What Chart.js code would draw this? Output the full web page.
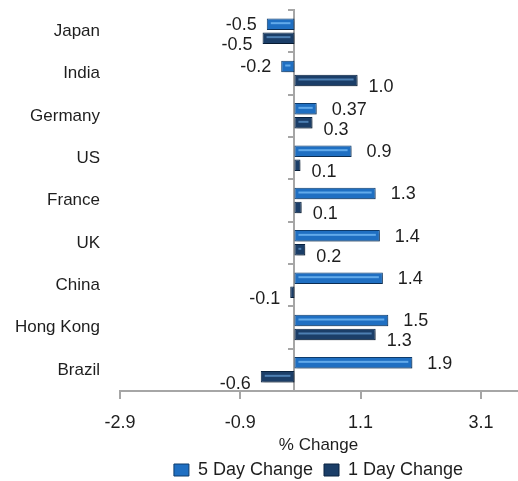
<!DOCTYPE html>
<html><head><meta charset="utf-8">
<script src="https://cdn.jsdelivr.net/npm/chart.js@4.4.1/dist/chart.umd.min.js"></script>
<style>html,body{margin:0;padding:0;background:#fff}#wrap{width:518px;height:481px}</style>
</head><body><div id="wrap"><canvas id="c" width="518" height="481"></canvas></div>
<script>
const categories = ['Japan','India','Germany','US','France','UK','China','Hong Kong','Brazil'];
const fiveDay = [-0.46,-0.22,0.37,0.95,1.35,1.42,1.47,1.56,1.96];
const oneDay = [-0.53,1.05,0.3,0.1,0.12,0.18,-0.07,1.35,-0.56];
const fiveDayLabels = ['-0.5','-0.2','0.37','0.9','1.3','1.4','1.4','1.5','1.9'];
const oneDayLabels = ['-0.5','1.0','0.3','0.1','0.1','0.2','-0.1','1.3','-0.6'];
const xTicks = [-2.9,-0.9,1.1,3.1];
const seriesNames = ['5 Day Change','1 Day Change'];
const axisTitle = '% Change';

const FONT = "'Liberation Sans', Arial, sans-serif";
const TXT = '#1e1e1e';
const highlight = ['#62aaea','#4d7fb2'];
const valueLabels = [fiveDayLabels, oneDayLabels];

const decor = {
  id: 'decor',
  beforeDatasetsDraw(chart) {
    const c = chart.ctx;
    c.save();
    c.shadowColor = 'rgba(0,0,0,0.28)';
    c.shadowOffsetX = 2; c.shadowOffsetY = 2; c.shadowBlur = 3;
  },
  afterDatasetsDraw(chart) {
    const c = chart.ctx;
    c.restore();
    c.save();
    chart.data.datasets.forEach((ds, di) => {
      const meta = chart.getDatasetMeta(di);
      meta.data.forEach((el, i) => {
        const p = el.getProps(['x','base','y','height'], true);
        const l = Math.min(p.x, p.base), r = Math.max(p.x, p.base);
        if (r - l > 8) {
          c.fillStyle = highlight[di];
          c.fillRect(l + 4, p.y - 2, r - l - 8, 2);
        }
        const v = ds.data[i];
        c.font = "18px " + FONT;
        c.fillStyle = TXT;
        c.textBaseline = 'middle';
        let tx, ty;
        if (di === 0) {
          if (v >= 0) { c.textAlign = 'left'; tx = p.x + 15; } else { c.textAlign = 'right'; tx = p.x - 10; }
          ty = p.y + 1;
        } else {
          if (v >= 0) { c.textAlign = 'left'; tx = p.x + 11; } else { c.textAlign = 'right'; tx = p.x - 10; }
          ty = p.y + 7;
        }
        c.fillText(valueLabels[di][i], tx, ty);
      });
    });
    c.restore();
  }
};

new Chart(document.getElementById('c'), {
  type: 'bar',
  data: {
    labels: categories,
    datasets: [
      { label: seriesNames[0], data: fiveDay, backgroundColor: '#1f6fc2', borderColor: '#0f3c6c', borderWidth: 1, borderSkipped: false, barPercentage: 0.82, categoryPercentage: 0.66 },
      { label: seriesNames[1], data: oneDay, backgroundColor: '#1b3e68', borderColor: '#0a2340', borderWidth: 1, borderSkipped: false, barPercentage: 0.82, categoryPercentage: 0.66 }
    ]
  },
  options: {
    indexAxis: 'y',
    responsive: false,
    animation: false,
    layout: { padding: { top: 10, right: 1, left: 0, bottom: -8 } },
    plugins: {
      tooltip: { enabled: false },
      legend: {
        position: 'bottom',
        fullSize: false,
        labels: { font: { family: FONT, size: 18 }, color: TXT, boxWidth: 15, boxHeight: 12, padding: 11 }
      }
    },
    scales: {
      x: {
        type: 'linear', min: -2.9, max: 3.7,
        afterBuildTicks: s => { s.ticks = xTicks.map(v => ({ value: v })); },
        afterFit: s => { s.height = 59; },
        ticks: { font: { family: FONT, size: 18 }, color: TXT, padding: 13, callback: v => Number(v).toFixed(1) },
        grid: { drawOnChartArea: false, drawTicks: true, tickLength: 8, color: '#a6a6a6', lineWidth: 2 },
        border: { color: '#a6a6a6', width: 2 },
        title: { display: true, text: axisTitle, font: { family: FONT, size: 17 }, color: TXT, padding: { top: 0, bottom: -6 } }
      },
      y: {
        type: 'category',
        afterFit: s => { s.width = 120; s.paddingTop = 0; s.paddingBottom = 0; },
        grid: { display: false, drawTicks: false },
        border: { display: false },
        ticks: { font: { family: FONT, size: 17 }, color: TXT, padding: 20 }
      },
      y2: {
        type: 'category', axis: 'y', position: { x: 0 }, offset: true,
        afterFit: s => { s.paddingTop = 0; s.paddingBottom = 0; },
        ticks: { display: false },
        grid: { drawOnChartArea: false, drawTicks: true, tickLength: 5, color: '#a6a6a6', lineWidth: 2, offset: true },
        border: { display: true, color: '#a6a6a6', width: 2 }
      }
    }
  },
  plugins: [decor]
});
</script>
</body></html>
